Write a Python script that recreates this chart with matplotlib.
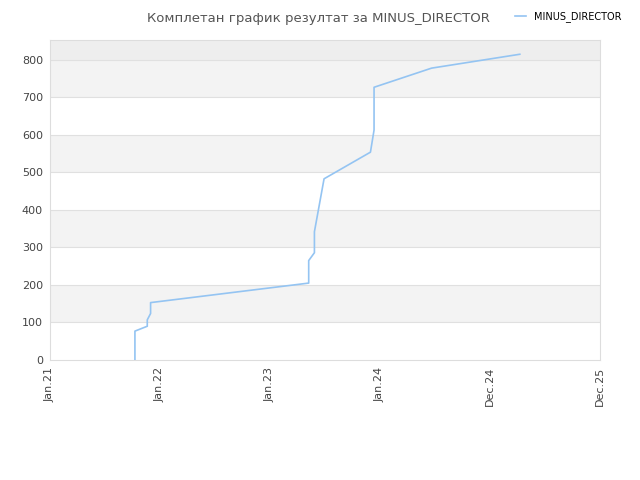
import datetime as dt
import matplotlib
matplotlib.use("Agg")
import matplotlib.pyplot as plt
import matplotlib.dates as mdates

player = "MINUS_DIRECTOR"
dates = ["2021-10-10", "2021-10-10", "2021-11-20", "2021-11-20", "2021-12-01",
         "2021-12-01", "2023-05-10", "2023-05-10", "2023-05-29", "2023-05-29",
         "2023-06-30", "2023-12-01", "2023-12-13", "2023-12-13", "2024-06-21",
         "2025-04-10"]
scores = [0, 77, 90, 107, 124, 153, 205, 265, 286, 342, 483, 554, 613, 727, 778, 815]
tick_labels = ["Jan.21", "Jan.22", "Jan.23", "Jan.24", "Dec.24", "Dec.25"]

x = [mdates.date2num(dt.datetime.strptime(d, "%Y-%m-%d")) for d in dates]
start = mdates.date2num(dt.datetime(2021, 1, 1))
ticks = [start + k * 365.25 for k in range(len(tick_labels))]

fig = plt.figure(figsize=(6.4, 4.8), dpi=100)
ax = fig.add_axes([50 / 640, 120 / 480, 550 / 640, 320 / 480])

ymax = 853
# alternating bands: grey on the odd hundreds, darker strip above 800
for lo in range(100, 800, 200):
    ax.axhspan(lo, lo + 100, color="#f3f3f3", zorder=0, lw=0)
ax.axhspan(800, ymax, color="#eeeeee", zorder=0, lw=0)
for y in range(100, 900, 100):
    ax.axhline(y, color="#e0e0e0", lw=0.8, zorder=1)

ax.plot(x, scores, color="#94c4f2", lw=1.2, zorder=3, label=player)

ax.set_xlim(ticks[0], ticks[-1])
ax.set_ylim(0, ymax)
ax.set_xticks(ticks)
ax.set_xticklabels(tick_labels, rotation=90, fontsize=8, color="#444444")
ax.set_yticks(range(0, 900, 100))
ax.tick_params(axis="y", labelsize=8, labelcolor="#444444")
ax.tick_params(length=0, pad=5)
for s in ax.spines.values():
    s.set_color("#dddddd")

fig.text(0.497, 0.975, "Комплетан график резултат за " + player, ha="center", va="top",
         fontsize=9.5, color="#555555")
fig.legend(loc="upper right", bbox_to_anchor=(0.985, 0.995), frameon=False, fontsize=7,
           handlelength=1.2)

fig.savefig("out.png", dpi=100)
